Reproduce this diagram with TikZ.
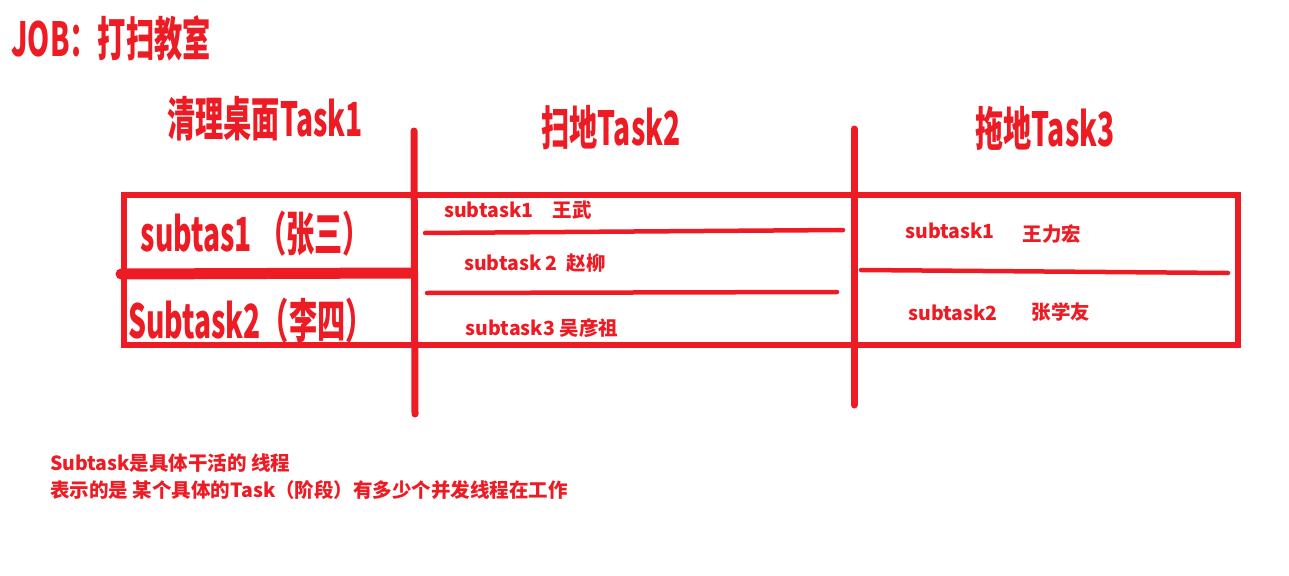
\documentclass[tikz,border=0pt]{standalone}
\usepackage{fontspec}
\setmainfont{Noto Sans CJK SC}
\newfontfamily\tallfont[FakeStretch=0.6]{Noto Sans CJK SC}
\definecolor{JobRed}{HTML}{ED1C24}

\begin{document}
\begin{tikzpicture}[x=1pt,y=-1pt,line cap=round,line join=round,
    bigtext/.style={font=\tallfont\bfseries\fontsize{47}{50}\selectfont,text=JobRed,inner sep=0pt},
    smalltext/.style={font=\bfseries\fontsize{19.5}{23}\selectfont,text=JobRed,inner sep=0pt},
    thinline/.style={JobRed,line width=4.5pt}]
  \useasboundingbox (0,0) rectangle (1289,575);
  % table frame and column bars
  \draw[JobRed,line width=6pt,line cap=butt,line join=miter] (124,195) rectangle (1238,345);
  \draw[JobRed,line width=7pt] (414,131) -- (415,414);
  \draw[JobRed,line width=7pt] (854,129) -- (854,405);
  \draw[JobRed,line width=11pt] (121,274) -- (412,273);
  \draw[thinline] (425,233) -- (843,230);
  \draw[thinline] (427,293) -- (837,292);
  \draw[thinline] (861,270) -- (1228,273);
  % headings
  \node[bigtext] (job) at (111,38) {JOB：打扫教室};
  \node[bigtext] (task1) at (265,119) {清理桌面Task1};
  \node[bigtext] (task2) at (611,128) {扫地Task2};
  \node[bigtext] (task3) at (1045,128) {拖地Task3};
  % subtasks
  \node[bigtext] (zhangsan) at (256,234) {subtas1 （张三）};
  \node[bigtext] (lisi) at (251,321) {Subtask2（李四）};
  \node[smalltext] (wangwu) at (518,210) {subtask1　王武};
  \node[smalltext] (zhaoliu) at (535,263) {subtask 2\ \ 赵柳};
  \node[smalltext] (wuyanzu) at (542,328) {subtask3 吴彦祖};
  \node[smalltext] (sub1) at (950,231) {subtask1};
  \node[smalltext] (wanglihong) at (1052,234) {王力宏};
  \node[smalltext] (sub2) at (953,313) {subtask2};
  \node[smalltext] (zhangxueyou) at (1061,312) {张学友};
  % note
  \node[smalltext,anchor=west] (note1) at (50,463) {Subtask是具体干活的 线程};
  \node[smalltext,anchor=west] (note2) at (50,490) {表示的是 某个具体的Task（阶段）有多少个并发线程在工作};
\end{tikzpicture}
\end{document}
